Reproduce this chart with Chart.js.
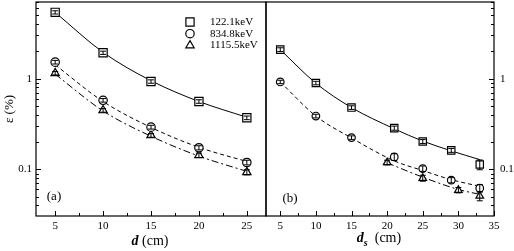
<!DOCTYPE html>
<html>
<head>
<meta charset="utf-8">
<script src="https://cdn.jsdelivr.net/npm/chart.js@4/dist/chart.umd.min.js"></script>
<style>
  html, body { margin: 0; padding: 0; background: #fff; }
  #wrap { position: relative; width: 514px; height: 251px; font-family: 'Liberation Serif', 'DejaVu Serif', serif; color: #000; }
  #wrap canvas { position: absolute; left: 0; top: 0; }
  .lbl { position: absolute; transform: translate(-50%, -50%); white-space: nowrap; line-height: 1; }
  .sub { position: relative; top: 4px; font-size: 10px; }
</style>
</head>
<body>
<div id="wrap">
  <canvas id="chartA" width="514" height="251"></canvas>
  <canvas id="chartB" width="514" height="251"></canvas>
  <div class="lbl" style="left:150px; top:241px; font-size:14px;"><b><i>d</i></b> (cm)</div>
  <div class="lbl" style="left:379px; top:238px; font-size:14px;"><b><i>d<span class="sub">s</span></i></b>&nbsp; (cm)</div>
  <div class="lbl" style="left:54px; top:195px; font-size:13px;">(a)</div>
  <div class="lbl" style="left:290px; top:197px; font-size:13px;">(b)</div>
</div>
<script>
// legend labels
const energyLabels = ['122.1keV', '834.8keV', '1115.5keV'];

// axis ticks
const xMajorA = [5, 10, 15, 20, 25];
const xMinorA = [7.5, 12.5, 17.5, 22.5];
const xMajorB = [5, 10, 15, 20, 25, 30, 35];
const xMinorB = [7.5, 12.5, 17.5, 22.5, 27.5, 32.5];
const yMajor = [0.1, 1];
const yMinor = [0.04, 0.05, 0.06, 0.07, 0.08, 0.09, 0.2, 0.3, 0.4, 0.5, 0.6, 0.7, 0.8, 0.9, 2, 3, 4, 5, 6, 7];

// panel (a): distance d (cm)
const dA = [5, 10, 15, 20, 25];
const effA122 = [5.38, 1.93, 0.93, 0.56, 0.37];
const effA834 = [1.52, 0.577, 0.292, 0.173, 0.119];
const effA1115 = [1.15, 0.447, 0.237, 0.143, 0.093];
const errA122 = [0.22, 0.08, 0.04, 0.025, 0.017];
const errA834 = [0.07, 0.026, 0.014, 0.009, 0.007];
const errA1115 = [0.05, 0.02, 0.011, 0.008, 0.006];
const fitA122 = [5.38, 1.95, 0.95, 0.56, 0.375];
const fitA834 = [1.42, 0.56, 0.29, 0.175, 0.122];
const fitA1115 = [1.12, 0.44, 0.232, 0.14, 0.095];

// panel (b): distance d_s (cm)
const dB = [5, 10, 15, 21, 25, 29, 33];
const dB1115 = [20, 25, 30, 33];
const effB122 = [2.09, 0.895, 0.48, 0.285, 0.203, 0.162, 0.113];
const effB834 = [0.92, 0.387, 0.224, 0.137, 0.102, 0.076, 0.062];
const effB1115 = [0.119, 0.080, 0.059, 0.051];
const errB122 = [0.1, 0.04, 0.022, 0.015, 0.01, 0.008, 0.014];
const errB834 = [0.04, 0.018, 0.01, 0.012, 0.007, 0.005, 0.006];
const errB1115 = [0.007, 0.006, 0.004, 0.006];
const fitB122 = [2.09, 0.89, 0.48, 0.28, 0.205, 0.16, 0.128];
const fitB834 = [0.92, 0.387, 0.222, 0.124, 0.097, 0.077, 0.065];
const fitB1115 = [0.118, 0.082, 0.060, 0.053];

Chart.defaults.font.family = "'Liberation Serif', 'DejaVu Serif', serif";
Chart.defaults.color = '#000';

const pts = (xs, ys) => xs.map((x, i) => ({ x: x, y: ys[i] }));

// frame box and inward tick marks
const frameTicks = {
    id: 'frameTicks',
    afterDraw(chart, args, opts) {
        const { ctx, chartArea: a, scales } = chart;
        ctx.save();
        ctx.strokeStyle = '#000';
        ctx.lineWidth = 1;
        const seg = (x1, y1, x2, y2) => { ctx.beginPath(); ctx.moveTo(x1, y1); ctx.lineTo(x2, y2); ctx.stroke(); };
        const xs = scales.x;
        xs.ticks.forEach(t => {
            const px = Math.round(xs.getPixelForValue(t.value)) + 0.5;
            const len = opts.xMajor.includes(t.value) ? 5 : 3;
            seg(px, a.bottom, px, a.bottom - len);
        });
        const ys = scales.y;
        const right = ys.position === 'right';
        const side = right ? a.right : a.left;
        const dir = right ? -1 : 1;
        ys.ticks.forEach(t => {
            const py = Math.round(ys.getPixelForValue(t.value)) + 0.5;
            const len = yMajor.includes(t.value) ? 5 : 3;
            seg(side, py, side + dir * len, py);
        });
        ctx.lineWidth = 1.2;
        ctx.strokeRect(a.left, a.top, a.right - a.left, a.bottom - a.top);
        ctx.restore();
    }
};

// vertical error bars with caps
const errorBars = {
    id: 'errorBars',
    afterDatasetsDraw(chart) {
        const { ctx } = chart;
        const yScale = chart.scales.y;
        ctx.save();
        ctx.strokeStyle = '#000';
        ctx.lineWidth = 1;
        chart.data.datasets.forEach((ds, i) => {
            if (!ds.errors) return;
            const meta = chart.getDatasetMeta(i);
            meta.data.forEach((pt, j) => {
                const v = ds.data[j].y;
                const e = ds.errors[j];
                const yTop = yScale.getPixelForValue(v + e);
                const yBot = yScale.getPixelForValue(v - e);
                const x = pt.x;
                ctx.beginPath();
                ctx.moveTo(x, yTop); ctx.lineTo(x, yBot);
                ctx.moveTo(x - 3, yTop); ctx.lineTo(x + 3, yTop);
                ctx.moveTo(x - 3, yBot); ctx.lineTo(x + 3, yBot);
                ctx.stroke();
            });
        });
        ctx.restore();
    }
};

// legend drawn inside the plot area
const panelLegend = {
    id: 'panelLegend',
    afterDraw(chart, args, opts) {
        if (!opts.show) return;
        const { ctx } = chart;
        ctx.save();
        ctx.font = "11px 'Liberation Serif', serif";
        ctx.textBaseline = 'middle';
        ctx.fillStyle = '#000';
        let row = 0;
        chart.data.datasets.forEach(ds => {
            if (!ds.label) return;
            const y = opts.y + row * opts.gap;
            ctx.strokeStyle = '#000';
            ctx.fillStyle = '#fff';
            ctx.lineWidth = 1.2;
            Chart.helpers.drawPoint(ctx, { pointStyle: ds.pointStyle, radius: ds.pointRadius, borderWidth: 1.2, rotation: 0 }, opts.x, y);
            ctx.fillStyle = '#000';
            ctx.fillText(ds.label, opts.textX, y);
            row++;
        });
        ctx.restore();
    }
};

function markerSet(label, data, errors, style, radius) {
    return {
        label: label,
        data: data,
        errors: errors,
        showLine: false,
        pointStyle: style,
        pointRadius: radius,
        pointBorderWidth: 1.2,
        pointBorderColor: '#000',
        pointBackgroundColor: '#fff',
        order: 0
    };
}

function fitSet(data, dash) {
    return {
        data: data,
        borderColor: '#000',
        borderWidth: 1,
        borderDash: dash,
        pointRadius: 0,
        tension: 0.4,
        cubicInterpolationMode: 'monotone',
        fill: false,
        order: 1
    };
}

function noScalePadding(scale) {
    scale.paddingTop = 0;
    scale.paddingBottom = 0;
    scale.paddingLeft = 0;
    scale.paddingRight = 0;
}

function buildOptions(cfg) {
    return {
        responsive: false,
        animation: false,
        layout: { padding: cfg.padding, autoPadding: false },
        plugins: {
            legend: { display: false },
            tooltip: { enabled: false },
            frameTicks: { xMajor: cfg.xMajor },
            panelLegend: cfg.legend
        },
        scales: {
            x: {
                type: 'linear',
                min: cfg.xMin,
                max: cfg.xMax,
                grid: { display: false, drawTicks: false },
                border: { display: false },
                afterBuildTicks: (scale) => {
                    scale.ticks = cfg.xMajor.concat(cfg.xMinor).sort((p, q) => p - q).map(v => ({ value: v }));
                },
                afterFit: (scale) => { scale.height = 35; noScalePadding(scale); },
                ticks: {
                    autoSkip: false,
                    maxRotation: 0,
                    padding: 4,
                    font: { size: 11 },
                    callback: (v) => cfg.xMajor.includes(v) ? String(v) : ''
                }
            },
            y: {
                type: 'logarithmic',
                position: cfg.yPos,
                min: 0.0306,
                max: 7,
                grid: { display: false, drawTicks: false },
                border: { display: false },
                afterBuildTicks: (scale) => {
                    scale.ticks = yMajor.concat(yMinor).sort((p, q) => p - q).map(v => ({ value: v }));
                },
                afterFit: (scale) => { scale.width = cfg.yWidth; noScalePadding(scale); },
                title: cfg.yTitle,
                ticks: {
                    autoSkip: false,
                    padding: cfg.yPad,
                    font: { size: 11 },
                    callback: (v) => yMajor.includes(v) ? String(v) : ''
                }
            }
        }
    };
}

new Chart(document.getElementById('chartA'), {
    type: 'line',
    data: {
        datasets: [
            markerSet(energyLabels[0], pts(dA, effA122), errA122, 'rect', 5.8),
            markerSet(energyLabels[1], pts(dA, effA834), errA834, 'circle', 4.2),
            markerSet(energyLabels[2], pts(dA, effA1115), errA1115, 'triangle', 4.8),
            fitSet(pts(dA, fitA122), []),
            fitSet(pts(dA, fitA834), [4, 3]),
            fitSet(pts(dA, fitA1115), [7, 3, 2, 3])
        ]
    },
    options: buildOptions({
        padding: { left: 0, right: 248, top: 2, bottom: 0 },
        xMin: 3, xMax: 27, xMajor: xMajorA, xMinor: xMinorA,
        yPos: 'left', yWidth: 36, yPad: 4,
        yTitle: { display: true, text: 'ε (%)', font: { size: 13 }, padding: { top: 2, bottom: 0 } },
        legend: { show: true, x: 190, y: 22, gap: 11.7, textX: 210 }
    }),
    plugins: [frameTicks, errorBars, panelLegend]
});

new Chart(document.getElementById('chartB'), {
    type: 'line',
    data: {
        datasets: [
            markerSet(null, pts(dB, effB122), errB122, 'rect', 5.2),
            markerSet(null, pts(dB, effB834), errB834, 'circle', 3.8),
            markerSet(null, pts(dB1115, effB1115), errB1115, 'triangle', 4.4),
            fitSet(pts(dB, fitB122), []),
            fitSet(pts(dB, fitB834), [4, 3]),
            fitSet(pts(dB1115, fitB1115), [7, 3, 2, 3])
        ]
    },
    options: buildOptions({
        padding: { left: 266, right: 0, top: 2, bottom: 0 },
        xMin: 3, xMax: 35, xMajor: xMajorB, xMinor: xMinorB,
        yPos: 'right', yWidth: 20, yPad: 6,
        yTitle: { display: false },
        legend: { show: false }
    }),
    plugins: [frameTicks, errorBars, panelLegend]
});
</script>
</body>
</html>
